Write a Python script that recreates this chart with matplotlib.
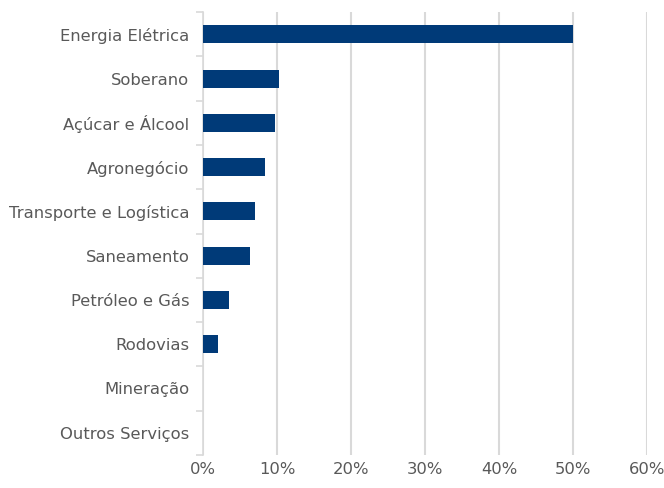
import matplotlib
matplotlib.use('Agg')
import matplotlib.pyplot as plt
from matplotlib.ticker import FuncFormatter, FixedLocator

categories = ['Energia Elétrica', 'Soberano', 'Açúcar e Álcool', 'Agronegócio',
              'Transporte e Logística', 'Saneamento', 'Petróleo e Gás',
              'Rodovias', 'Mineração', 'Outros Serviços']
values = [50.0, 10.3, 9.7, 8.4, 7.0, 6.4, 3.5, 2.0, 0.0, 0.0]
xticks = [0, 10, 20, 30, 40, 50, 60]

plt.rcParams['font.family'] = 'DejaVu Sans'

fig = plt.figure(figsize=(6.64, 4.88), dpi=100)
ax = fig.add_axes([0.306, 0.068, 0.668, 0.907])

pos = list(range(len(categories)))
ax.barh(pos, values, height=0.41, color='#003A78', linewidth=0, zorder=3)
ax.set_ylim(len(categories) - 0.5, -0.5)
ax.set_xlim(0, 60)

ax.set_yticks(pos)
ax.set_yticklabels(categories)
ax.yaxis.set_minor_locator(FixedLocator([p - 0.5 for p in pos] + [len(pos) - 0.5]))
ax.tick_params(axis='y', which='major', length=0, pad=10, labelsize=11.8, labelcolor='#595959')
ax.tick_params(axis='y', which='minor', length=5, width=1.2, color='#D9D9D9')

ax.set_xticks(xticks)
ax.xaxis.set_major_formatter(FuncFormatter(lambda v, p: '%d%%' % v))
ax.tick_params(axis='x', length=0, pad=5, labelsize=11.8, labelcolor='#595959')

ax.grid(axis='x', color='#D9D9D9', linewidth=1.5, zorder=0)
for s in ['top', 'right', 'bottom']:
    ax.spines[s].set_visible(False)
ax.spines['left'].set_color('#D9D9D9')
ax.spines['left'].set_linewidth(1.2)

fig.savefig('out.png', dpi=100)
